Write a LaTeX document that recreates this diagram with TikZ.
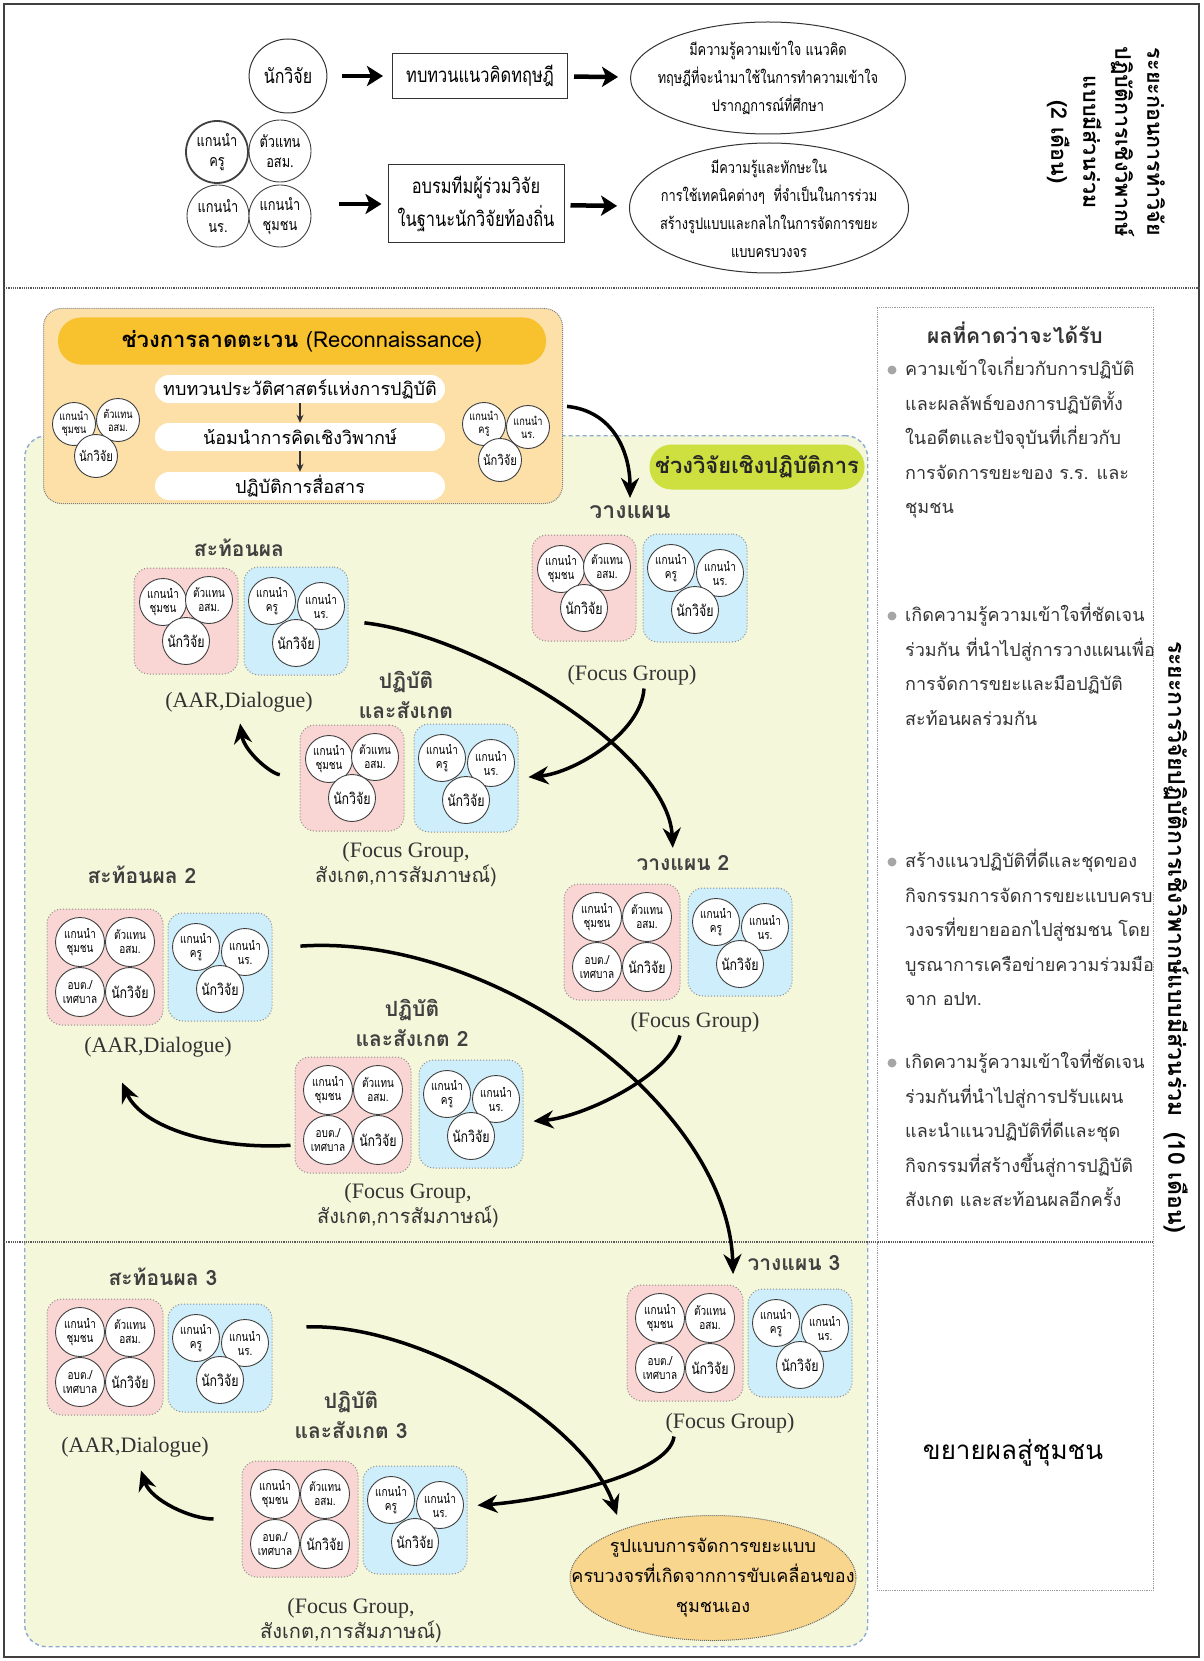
\documentclass[tikz,border=0pt]{standalone}
\usepackage{fontspec}
\setmainfont[Script=Thai]{Loma}
\newfontfamily\condfont[Script=Thai, FakeStretch=0.8]{Loma}
\newfontfamily\notefont{Liberation Serif}
\usetikzlibrary{arrows.meta,calc,positioning,shapes.geometric}

\definecolor{reconfill}{HTML}{FDDFA8}
\definecolor{reconhead}{HTML}{F8C22E}
\definecolor{cyclehead}{HTML}{CEE040}
\definecolor{cyclefill}{HTML}{F4F7DA}
\definecolor{cycleline}{HTML}{8DA9D4}
\definecolor{pinkfill}{HTML}{F9D5D3}
\definecolor{bluefill}{HTML}{CDEEFA}
\definecolor{goalfill}{HTML}{F9D68D}

\newcommand{\fsz}[2]{\fontsize{#1}{#2}\selectfont}

\tikzset{
  member/.style = {circle, draw=black!75, line width=0.9pt, fill=white,
                   inner sep=0pt, minimum size=47pt, align=center,
                   font=\condfont\fsz{12.5}{14}},
  resname/.style = {font=\condfont\fsz{15.5}{17}},
  pinkbox/.style = {draw=black!45, dotted, line width=1pt, fill=pinkfill,
                    rounded corners=15pt, inner sep=0pt},
  bluebox/.style = {draw=black!45, dotted, line width=1pt, fill=bluefill,
                    rounded corners=15pt, inner sep=0pt},
  steplabel/.style = {font=\bfseries\fsz{21}{30}, text=black!75, align=center},
  notetext/.style = {font=\fsz{20}{25}, text=black!80, align=center},
  pill/.style = {fill=white, rounded corners=14pt, inner sep=0pt,
                 minimum width=290pt, minimum height=28pt, font=\fsz{18}{20}},
  outitem/.style = {align=left, anchor=north west, inner sep=0pt,
                    font=\fsz{18}{34.5}, text=black!80},
  outdot/.style = {circle, fill=black!35, minimum size=9pt, inner sep=0pt},
  flow/.style = {->, line width=3.5pt},
  bigflow/.style = {-{Stealth[length=16pt,width=20pt,inset=4pt]}, line width=4.5pt},
  thinflow/.style = {-{Stealth[length=8pt,width=7pt]}, line width=1.3pt, black!80},
  sepline/.style = {densely dotted, line width=1.2pt, black!65},
}

% team boxes: pink = community side, blue = school side
\newcommand{\pinkthree}[2]{%
  \node[pinkbox, minimum width=104pt, minimum height=106pt] (#1) at (#2) {};
  \node[member] (#1-comm) at ($(#1)+(-23,-19)$) {แกนนำ\\ชุมชน};
  \node[member] (#1-vhv)  at ($(#1)+(23,-21)$)  {ตัวแทน\\อสม.};
  \node[member, resname] (#1-res) at ($(#1)+(0,20)$) {นักวิจัย};
}
\newcommand{\pinkfour}[2]{%
  \node[pinkbox, minimum width=116pt, minimum height=116pt] (#1) at (#2) {};
  \node[member, minimum size=49pt] (#1-comm) at ($(#1)+(-25,-25)$) {แกนนำ\\ชุมชน};
  \node[member, minimum size=49pt] (#1-vhv)  at ($(#1)+(25,-25)$)  {ตัวแทน\\อสม.};
  \node[member, minimum size=49pt] (#1-lao)  at ($(#1)+(-25,25)$)  {อบต./\\เทศบาล};
  \node[member, minimum size=49pt, resname] (#1-res) at ($(#1)+(25,25)$) {นักวิจัย};
}
\newcommand{\bluethree}[2]{%
  \node[bluebox, minimum width=104pt, minimum height=108pt] (#1) at (#2) {};
  \node[member] (#1-teach) at ($(#1)+(-24,-20)$) {แกนนำ\\ครู};
  \node[member] (#1-stud)  at ($(#1)+(25,-15)$)  {แกนนำ\\นร.};
  \node[member, resname] (#1-res) at ($(#1)+(0,22)$) {นักวิจัย};
}

\begin{document}
\begin{tikzpicture}[x=1pt, y=-1pt, >={Stealth[length=20pt,width=18pt]}]

    \useasboundingbox (0,0) rectangle (1203,1661);
    \draw[line width=1.3pt, black!75] (4,4) rectangle (1199,1657);

    %% before the research (2 months)
    \node[ellipse,
          draw = black!80,
          line width = 1pt,
          minimum width = 68pt,
          minimum height = 74pt,
          font = \condfont\fsz{20}{22}
          ] (res) at (288,76) {นักวิจัย};

    \node[rectangle,
          draw = black!80,
          line width = 1pt,
          minimum width = 175pt,
          minimum height = 45pt,
          font = \condfont\fsz{20.5}{22}
          ] (review) at (480,76) {ทบทวนแนวคิดทฤษฎี};

    \node[ellipse,
          draw = black!80,
          line width = 1pt,
          minimum width = 275pt,
          minimum height = 112pt
          ] (know1) at (768,78) {};
    \node[align=center, font=\condfont\fsz{16}{28}] (know1-t) at (know1.center)
        {มีความรู้ความเข้าใจ แนวคิด\\ทฤษฎีที่จะนำมาใช้ในการทำความเข้าใจ\\ปรากฏการณ์ที่ศึกษา};

    \node[member, minimum size=62pt, line width=1.8pt, font=\condfont\fsz{16}{20}] (cl-teach) at (217,152) {แกนนำ\\ครู};
    \node[member, minimum size=62pt, font=\condfont\fsz{16}{20}] (cl-vhv) at (280,151) {ตัวแทน\\อสม.};
    \node[member, minimum size=62pt, font=\condfont\fsz{16}{20}] (cl-stud) at (218,216) {แกนนำ\\นร.};
    \node[member, minimum size=62pt, font=\condfont\fsz{16}{20}] (cl-comm) at (280,216) {แกนนำ\\ชุมชน};

    \node[rectangle,
          draw = black!80,
          line width = 1pt,
          minimum width = 176pt,
          minimum height = 78pt
          ] (train) at (476,204) {};
    \node[align=center, font=\condfont\fsz{20.5}{33}] (train-t) at (train.center)
        {อบรมทีมผู้ร่วมวิจัย\\ในฐานะนักวิจัยท้องถิ่น};

    \node[ellipse,
          draw = black!80,
          line width = 1pt,
          minimum width = 279pt,
          minimum height = 130pt
          ] (know2) at (769,208) {};
    \node[align=center, font=\condfont\fsz{16}{28}] (know2-t) at (know2.center)
        {มีความรู้และทักษะใน\\การใช้เทคนิคต่างๆ \ ที่จำเป็นในการร่วม\\สร้างรูปแบบและกลไกในการจัดการขยะ\\แบบครบวงจร};

    \draw[bigflow, shorten <=15pt, shorten >=9pt] (res) -- (review);
    \draw[bigflow, shorten <=6pt, shorten >=12pt] (review) -- (know1);
    \draw[bigflow, shorten <=28pt, shorten >=6pt] (cl-comm.east |- train.west) -- (train.west);
    \draw[bigflow, shorten <=6pt, shorten >=12pt] (train) -- (know2);

    \node[rotate=-90, align=center, font=\bfseries\fsz{21.5}{32}] (prephase) at (1106,142)
        {ระยะก่อนการทำวิจัย\\ปฏิบัติการเชิงวิพากษ์\\แบบมีส่วนร่วม\\(2 เดือน)};

    \draw[sepline] (4,288) -- (1199,288);

    %% action research cycles
    \node[draw = cycleline,
          dash pattern = on 4pt off 3pt,
          line width = 1.4pt,
          fill = cyclefill,
          rounded corners = 22pt,
          minimum width = 843pt,
          minimum height = 1211pt,
          anchor = north west
          ] (cycle) at (24,435) {};

    \node[fill=cyclehead, rounded corners=22pt, minimum width=215pt, minimum height=45pt,
          font=\bfseries\fsz{22}{24}, text=black!85] (cycle-head) at (757,467) {ช่วงวิจัยเชิงปฏิบัติการ};

    %% reconnaissance
    \node[draw = black!50,
          densely dotted,
          line width = 1pt,
          fill = reconfill,
          rounded corners = 18pt,
          minimum width = 519pt,
          minimum height = 195pt,
          anchor = north west
          ] (recon) at (43,308) {};
    \node[fill=reconhead, rounded corners=23pt, minimum width=488pt, minimum height=47pt,
          font=\fsz{22}{24}] (recon-head) at (302,341) {\textbf{ช่วงการลาดตะเวน} (Reconnaissance)};

    \node[pill] (hist) at (300,389) {ทบทวนประวัติศาสตร์แห่งการปฏิบัติ};
    \node[pill] (crit) at (300,437) {น้อมนำการคิดเชิงวิพากษ์};
    \node[pill] (comms) at (300,486) {ปฏิบัติการสื่อสาร};
    \draw[thinflow] (hist) -- (crit);
    \draw[thinflow] (crit) -- (comms);

    \node[member, minimum size=43pt, font=\condfont\fsz{11.5}{13}] (rc-comm) at (74,424) {แกนนำ\\ชุมชน};
    \node[member, minimum size=43pt, font=\condfont\fsz{11.5}{13}] (rc-vhv) at (118,420) {ตัวแทน\\อสม.};
    \node[member, minimum size=43pt, font=\condfont\fsz{14}{15}] (rc-res) at (96,456) {นักวิจัย};
    \node[member, minimum size=43pt, font=\condfont\fsz{11.5}{13}] (rc-teach) at (484,424) {แกนนำ\\ครู};
    \node[member, minimum size=43pt, font=\condfont\fsz{11.5}{13}] (rc-stud) at (528,427) {แกนนำ\\นร.};
    \node[member, minimum size=43pt, font=\condfont\fsz{14}{15}] (rc-res2) at (500,460) {นักวิจัย};

    %% cycle 1
    \node[steplabel, font=\bfseries\fsz{23}{30}] (plan1-t) at (630,512) {วางแผน};
    \pinkthree{plan1-pink}{584,588}
    \bluethree{plan1-blue}{695,588}
    \node[notetext] (plan1-n) at (632,675) {\notefont\fsz{22}{25}(Focus Group)};

    \node[steplabel] (act1-t) at (406,695) {ปฏิบัติ\\และสังเกต};
    \pinkthree{act1-pink}{352,778}
    \bluethree{act1-blue}{466,778}
    \node[notetext] (act1-n) at (406,864) {{\notefont\fsz{22}{25}(Focus Group,}\\สังเกต,การสัมภาษณ์)};

    \node[steplabel] (refl1-t) at (239,548) {สะท้อนผล};
    \pinkthree{refl1-pink}{186,621}
    \bluethree{refl1-blue}{296,621}
    \node[notetext] (refl1-n) at (239,702) {\notefont\fsz{22}{25}(AAR,Dialogue)};

    %% cycle 2
    \node[steplabel] (plan2-t) at (683,863) {วางแผน 2};
    \pinkfour{plan2-pink}{622,942}
    \bluethree{plan2-blue}{740,942}
    \node[notetext] (plan2-n) at (695,1022) {\notefont\fsz{22}{25}(Focus Group)};

    \node[steplabel] (act2-t) at (412,1023) {ปฏิบัติ\\และสังเกต 2};
    \pinkfour{act2-pink}{353,1115}
    \bluethree{act2-blue}{471,1114}
    \node[notetext] (act2-n) at (408,1205) {{\notefont\fsz{22}{25}(Focus Group,}\\สังเกต,การสัมภาษณ์)};

    \node[steplabel] (refl2-t) at (142,875) {สะท้อนผล 2};
    \pinkfour{refl2-pink}{105,967}
    \bluethree{refl2-blue}{220,967}
    \node[notetext] (refl2-n) at (158,1047) {\notefont\fsz{22}{25}(AAR,Dialogue)};

    \draw[sepline] (4,1242) -- (1153,1242);

    %% cycle 3
    \node[steplabel] (plan3-t) at (794,1263) {วางแผน 3};
    \pinkfour{plan3-pink}{685,1343}
    \bluethree{plan3-blue}{800,1343}
    \node[notetext] (plan3-n) at (730,1423) {\notefont\fsz{22}{25}(Focus Group)};

    \node[steplabel] (act3-t) at (351,1415) {ปฏิบัติ\\และสังเกต 3};
    \pinkfour{act3-pink}{300,1519}
    \bluethree{act3-blue}{415,1520}
    \node[notetext] (act3-n) at (351,1620) {{\notefont\fsz{22}{25}(Focus Group,}\\สังเกต,การสัมภาษณ์)};

    \node[steplabel] (refl3-t) at (163,1277) {สะท้อนผล 3};
    \pinkfour{refl3-pink}{105,1357}
    \bluethree{refl3-blue}{220,1358}
    \node[notetext] (refl3-n) at (135,1447) {\notefont\fsz{22}{25}(AAR,Dialogue)};

    \node[ellipse,
          draw = black!60,
          densely dotted,
          line width = 1pt,
          fill = goalfill,
          minimum width = 286pt,
          minimum height = 125pt
          ] (goal) at (713,1578) {};
    \node[align=center, font=\fsz{18}{30}] (goal-t) at (goal.center)
        {รูปแบบการจัดการขยะแบบ\\ครบวงจรที่เกิดจากการขับเคลื่อนของ\\ชุมชนเอง};
    \coordinate (goal-in) at ($(goal.north)+(-96,0)$);

    %% cycle arrows
    \draw[flow, shorten <=4pt, shorten >=4pt] (recon.east) .. controls +(50,5) and +(0,-50) .. (plan1-t.north);
    % plan -> act -> reflect -> plan
    \draw[flow, shorten >=10pt] ([xshift=12pt]plan1-n.south) .. controls +(-3,45) and +(55,-5) .. (act1-blue.east);
    \draw[flow, shorten <=20pt, shorten >=8pt] (act1-pink.west) .. controls +(-30,-5) and +(5,35) .. (refl1-n.south);
    \draw[flow, shorten <=16pt, shorten >=4pt] (refl1-blue.east) .. controls +(130,15) and +(-5,-100) .. ([xshift=-10pt]plan2-t.north);

    \draw[flow, shorten >=10pt] ([xshift=-15pt]plan2-n.south) .. controls +(-10,40) and +(60,-5) .. ([yshift=-8pt]act2-blue.east);
    \draw[flow, shorten <=4pt] ([yshift=-30pt]act2-pink.west) .. controls +(-80,5) and +(20,45) .. ([xshift=-36pt,yshift=-22pt]refl2-n.south);
    \draw[flow, shorten <=28pt] ([yshift=19pt]refl2-blue.east) .. controls +(220,-15) and +(-5,-170) .. ([xshift=-11pt]plan3-t.south west);

    \draw[flow, shorten >=10pt] ([xshift=12pt]plan3-n.south west) .. controls +(-5,40) and +(70,-5) .. ([yshift=14pt]act3-blue.east);
    \draw[flow, shorten <=28pt] (act3-pink.west) .. controls +(-50,0) and +(10,30) .. ([xshift=6pt,yshift=-10pt]refl3-n.south);
    \draw[flow, shorten <=34pt] ([yshift=30pt]refl3-blue.east) .. controls +(150,-5) and +(-30,-90) .. (goal-in);

    %% expected outcomes
    \node[draw = black!40,
          densely dotted,
          line width = 0.8pt,
          minimum width = 276pt,
          minimum height = 1283pt,
          anchor = north west
          ] (outbox) at (877,307) {};
    \node[font=\bfseries\fsz{21}{24}, text=black!80] (out-t) at (1015,333) {ผลที่คาดว่าจะได้รับ};

    \node[outdot] (out1-b) at (892,370) {};
    \node[outitem] (out1) at (905,357)
        {ความเข้าใจเกี่ยวกับการปฏิบัติ\\และผลลัพธ์ของการปฏิบัติทั้ง\\ในอดีตและปัจจุบันที่เกี่ยวกับ\\การจัดการขยะของ ร.ร. และ\\ชุมชน};
    \node[outdot] (out2-b) at (892,616) {};
    \node[outitem] (out2) at (905,603)
        {เกิดความรู้ความเข้าใจที่ชัดเจน\\ร่วมกัน ที่นำไปสู่การวางแผนเพื่อ\\การจัดการขยะและมือปฏิบัติ\\สะท้อนผลร่วมกัน};
    \node[outdot] (out3-b) at (892,862) {};
    \node[outitem] (out3) at (905,849)
        {สร้างแนวปฏิบัติที่ดีและชุดของ\\กิจกรรมการจัดการขยะแบบครบ\\วงจรที่ขยายออกไปสู่ชมชน โดย\\บูรณาการเครือข่ายความร่วมมือ\\จาก อปท.};
    \node[outdot] (out4-b) at (892,1063) {};
    \node[outitem] (out4) at (905,1050)
        {เกิดความรู้ความเข้าใจที่ชัดเจน\\ร่วมกันที่นำไปสู่การปรับแผน\\และนำแนวปฏิบัติที่ดีและชุด\\กิจกรรมที่สร้างขึ้นสู่การปฏิบัติ\\สังเกต และสะท้อนผลอีกครั้ง};

    \node[font=\fsz{26}{28}] (expand) at (1013,1453) {ขยายผลสู่ชุมชน};

    \node[rotate=-90, font=\bfseries\fsz{23}{26}] (phase) at (1176,937)
        {ระยะการวิจัยปฏิบัติการเชิงวิพากษ์แบบมีส่วนร่วม \ (10 เดือน)};

\end{tikzpicture}
\end{document}
